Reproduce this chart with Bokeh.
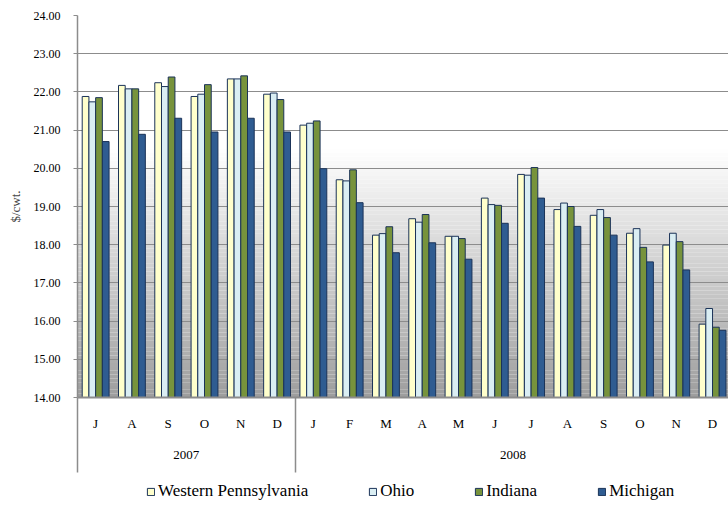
import numpy as np
from bokeh.plotting import figure
from bokeh.layouts import column
from bokeh.models import (ColumnDataSource, Range1d, FixedTicker, LinearAxis,
                          Legend, LegendItem, SingleIntervalTicker, NumeralTickFormatter)
from bokeh.embed import file_html
from bokeh.resources import INLINE

# ---------------- data ----------------
months = ["J", "A", "S", "O", "N", "D",
          "J", "F", "M", "A", "M", "J", "J", "A", "S", "O", "N", "D"]
years = ["2007", "2008"]
year_counts = [6, 12]
series_names = ["Western Pennsylvania", "Ohio", "Indiana", "Michigan"]
western_pa = [21.88, 22.17, 22.24, 21.88, 22.34, 21.94,
              21.13, 19.70, 18.25, 18.68, 18.22, 19.22, 19.84, 18.92, 18.77, 18.30, 17.99, 15.92]
ohio = [21.74, 22.08, 22.14, 21.94, 22.34, 21.97,
        21.18, 19.67, 18.29, 18.59, 18.22, 19.05, 19.82, 19.09, 18.92, 18.42, 18.30, 16.33]
indiana = [21.85, 22.08, 22.39, 22.19, 22.42, 21.80,
           21.24, 19.96, 18.47, 18.79, 18.16, 19.03, 20.02, 19.00, 18.71, 17.93, 18.08, 15.84]
michigan = [20.70, 20.89, 21.31, 20.95, 21.31, 20.95,
            19.99, 19.10, 17.79, 18.05, 17.62, 18.56, 19.22, 18.48, 18.25, 17.55, 17.34, 15.76]

# ---------------- styling ----------------
colors = ["#FFFFCC", "#DAEEF3", "#77933C", "#2F5C91"]
outline = "#1B3358"
serif = "Liberation Serif"
grid_gray = "#8C8C8C"

n = len(months)
centers = [2 * i + 1 for i in range(n)]          # category centres (2 units per category)
bounds = [0]
for c in year_counts:
    bounds.append(bounds[-1] + 2 * c)
year_centers = [(bounds[i] + bounds[i + 1]) / 2 for i in range(len(years))]

p = figure(width=728, height=476, output_backend="svg", toolbar_location=None,
           x_range=Range1d(0, 35.88), y_range=Range1d(14, 24),
           min_border_left=77, min_border_right=0, min_border_top=15, min_border_bottom=79)
p.outline_line_color = None
p.background_fill_color = "white"
p.border_fill_color = "white"

# gradient background (white above ~20, fading to grey at 14)
edges = np.linspace(14, 20.5, 66)
bg = ColumnDataSource(dict(
    bottom=edges[:-1], top=edges[1:],
    color=["#%02x%02x%02x" % ((int(255 - (20.5 - (a + b) / 2) / 6.5 * 97),) * 3)
           for a, b in zip(edges[:-1], edges[1:])]))
p.quad(left=0, right=bounds[-1], bottom="bottom", top="top", fill_color="color",
       line_color=None, source=bg, level="image")

# bars
bw = 0.37
for k, (vals, col) in enumerate(zip([western_pa, ohio, indiana, michigan], colors)):
    xs = [c + (k - 1.5) * bw for c in centers]
    src = ColumnDataSource(dict(x=xs, top=vals))
    p.vbar(x="x", top="top", bottom=14, width=bw, source=src,
           fill_color=col, line_color=outline, line_width=1)

# y axis
yax = p.yaxis[0]
yax.ticker = SingleIntervalTicker(interval=1, num_minor_ticks=0)
yax.formatter = NumeralTickFormatter(format="0.00")
yax.axis_label = "$/cwt."
yax.axis_label_text_font = serif
yax.axis_label_text_font_style = "normal"
yax.axis_label_text_font_size = "13px"
yax.axis_label_standoff = 8
yax.major_label_text_font = serif
yax.major_label_text_font_size = "12px"
yax.major_label_text_color = "black"
yax.axis_line_color = grid_gray
yax.axis_line_width = 1.5
yax.major_tick_line_color = grid_gray
yax.major_tick_in = 0
yax.major_tick_out = 4
yax.minor_tick_line_color = None
yax.major_label_standoff = 13

p.ygrid.ticker = SingleIntervalTicker(interval=1)
p.ygrid.grid_line_color = grid_gray
p.ygrid.grid_line_width = 1
p.xgrid.visible = False

# month axis (group separators drawn as long minor ticks)
xax = p.xaxis[0]
xax.ticker = FixedTicker(ticks=centers, minor_ticks=bounds)
xax.major_label_overrides = {c: m for c, m in zip(centers, months)}
xax.major_label_text_font = serif
xax.major_label_text_font_size = "13px"
xax.major_label_text_color = "black"
xax.major_label_standoff = 18
xax.major_tick_in = 0
xax.major_tick_out = 0
xax.major_tick_line_color = None
xax.minor_tick_in = -75
xax.minor_tick_out = 0
xax.minor_tick_line_color = grid_gray
xax.minor_tick_line_width = 1.5
xax.axis_line_color = grid_gray
xax.axis_line_width = 2

# year axis
yrax = LinearAxis(ticker=FixedTicker(ticks=year_centers, minor_ticks=[]),
                  major_label_overrides={c: y for c, y in zip(year_centers, years)})
yrax.major_label_text_font = serif
yrax.major_label_text_font_size = "13px"
yrax.major_label_text_color = "black"
yrax.major_label_standoff = 17
yrax.axis_line_color = None
yrax.major_tick_line_color = None
yrax.minor_tick_line_color = None
yrax.major_tick_in = 0
yrax.major_tick_out = 0
p.add_layout(yrax, "below")

# legend strip (separate small figure under the chart; its frame is aligned with the chart's)
lg = figure(width=728, height=30, output_backend="svg", toolbar_location=None,
            x_axis_type=None, y_axis_type=None,
            x_range=Range1d(0, 1), y_range=Range1d(0, 1),
            min_border_left=0, min_border_right=0, min_border_top=0, min_border_bottom=0)
lg.outline_line_color = None
lg.xgrid.visible = False
lg.ygrid.visible = False
items = []
for nm, col in zip(series_names, colors):
    # key swatch renderer: one bar kept outside the strip's visible range
    r = lg.vbar(x=[-5], top=[-5], bottom=-6, width=1, fill_color=col,
                line_color=outline, line_width=1)
    items.append(LegendItem(label=nm, renderers=[r]))
legend = Legend(items=items, orientation="horizontal", location=(69, 5))
legend.label_text_font = serif
legend.label_text_font_size = "17px"
legend.label_text_color = "black"
legend.glyph_width = 9
legend.glyph_height = 9
legend.label_standoff = 3
legend.spacing = 60
legend.padding = 0
legend.margin = 0
legend.border_line_color = None
legend.background_fill_alpha = 0
lg.add_layout(legend)

layout = column(p, lg, spacing=0)
open("out.html", "w").write(file_html(layout, INLINE))
